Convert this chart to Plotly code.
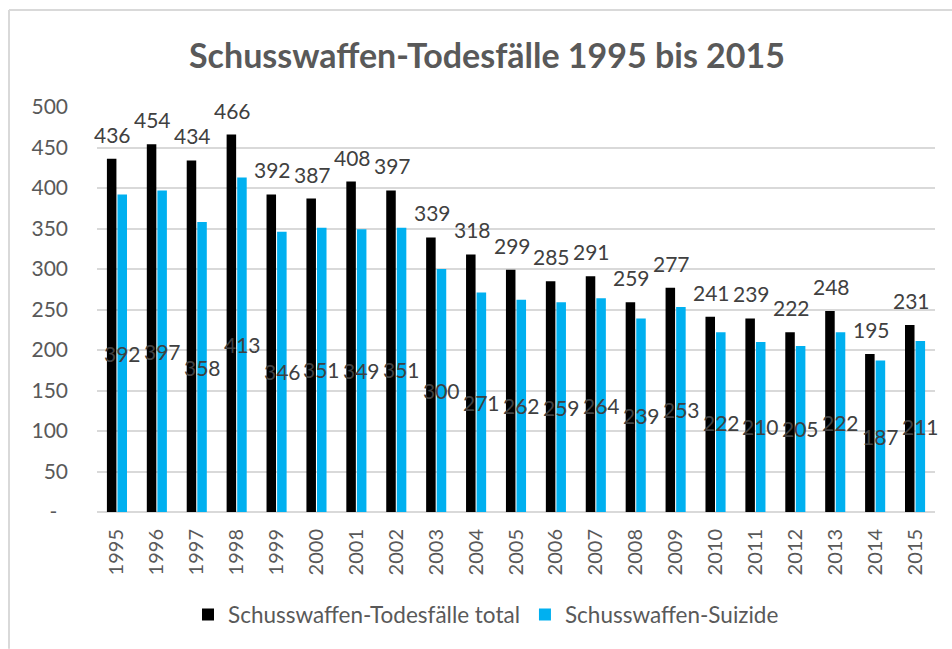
import plotly.graph_objects as go

years = [str(y) for y in range(1995, 2016)]
total = [436, 454, 434, 466, 392, 387, 408, 397, 339, 318, 299, 285, 291, 259, 277, 241, 239, 222, 248, 195, 231]
suizide = [392, 397, 358, 413, 346, 351, 349, 351, 300, 271, 262, 259, 264, 239, 253, 222, 210, 205, 222, 187, 211]
ytick_vals = [0, 50, 100, 150, 200, 250, 300, 350, 400, 450, 500]
ytick_text = ["-\u00a0\u00a0", "50", "100", "150", "200", "250", "300", "350", "400", "450", "500"]

FONT = "Lato"
GRAY = "#595959"
LABEL = "#404040"

W, H = 952, 649
L, R, T, B = 97, 17, 107, 133
pw, ph = W - L - R, H - T - B

fig = go.Figure()
fig.add_trace(go.Bar(x=years, y=total, name="Schusswaffen-Todesfälle total",
                     marker=dict(color="#000000", line=dict(width=0))))
fig.add_trace(go.Bar(x=years, y=suizide, name="Schusswaffen-Suizide",
                     marker=dict(color="#00B0F0", line=dict(width=0))))

ann = []
for i, v in enumerate(total):
    ann.append(dict(x=i, y=v, xref="x", yref="y", text=str(v), showarrow=False,
                    xshift=-4, yshift=10, yanchor="bottom", xanchor="center",
                    font=dict(family=FONT, size=21, color=LABEL)))
for i, v in enumerate(suizide):
    ann.append(dict(x=i, y=v / 2, xref="x", yref="y", text=str(v), showarrow=False,
                    xshift=5.5, yanchor="middle", xanchor="center",
                    font=dict(family=FONT, size=21, color=LABEL)))

shapes = [
    dict(type="line", xref="paper", yref="paper",
         x0=(9 - L) / pw, x1=(9 - L) / pw, y0=(H - B - 9) / ph, y1=(H - B - H - 5) / ph,
         line=dict(color="#D9D9D9", width=2)),
    dict(type="line", xref="paper", yref="paper",
         x0=(9 - L) / pw, x1=(W + 5 - L) / pw, y0=(H - B - 9) / ph, y1=(H - B - 9) / ph,
         line=dict(color="#D9D9D9", width=2)),
]

fig.update_layout(
    width=W, height=H,
    margin=dict(l=L, r=R, t=T, b=B),
    paper_bgcolor="white", plot_bgcolor="white",
    barmode="group", bargap=0.47, bargroupgap=0.1,
    title=dict(text="<b>Schusswaffen-Todesfälle 1995 bis 2015</b>", x=487 / W, xanchor="center",
               y=(H - 56) / H, yanchor="middle",
               font=dict(family=FONT, size=34, color=GRAY)),
    font=dict(family=FONT, color=GRAY),
    xaxis=dict(type="category", range=[-0.5, len(years) - 0.5], tickangle=-90,
               showgrid=False, showline=False,
               ticks="", ticklabelstandoff=12,
               tickfont=dict(family=FONT, size=20, color=GRAY)),
    yaxis=dict(range=[0, 500], tickvals=ytick_vals, ticktext=ytick_text,
               showgrid=True, gridcolor="#D9D9D9", gridwidth=1.5,
               zeroline=True, zerolinecolor="#D9D9D9", zerolinewidth=1.5,
               showline=False, ticks="", ticklabelstandoff=28,
               tickfont=dict(family=FONT, size=21, color=GRAY)),
    legend=dict(orientation="h", x=(486 - L) / pw, xanchor="center",
                y=(H - B - 620) / ph, yanchor="middle",
                font=dict(family=FONT, size=22.5, color=GRAY),
                itemwidth=30, traceorder="normal"),
    annotations=ann, shapes=shapes,
)

fig.write_html("out.html", config={"displayModeBar": False},
               post_script="document.body.style.margin='0px';")
